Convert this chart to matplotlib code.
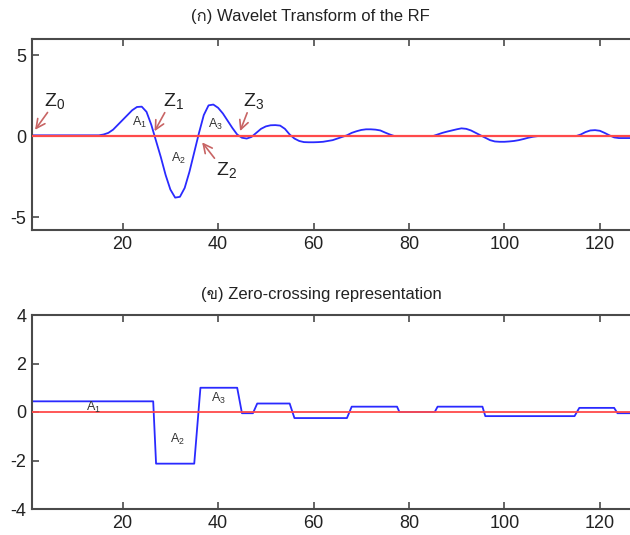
import numpy as np
import matplotlib
matplotlib.use('Agg')
import matplotlib.pyplot as plt
from matplotlib import font_manager
from matplotlib.ft2font import FT2Font

# wavelet transform of the RF, one sample per x = 1..127
x_wt = np.arange(1, 128)
y_wt = [0.05] * 15 + [
    0.1, 0.2, 0.4, 0.7, 1.0, 1.3, 1.6, 1.8, 1.82, 1.5,          # 16-25
    0.7, -0.3, -1.3, -2.4, -3.3, -3.8, -3.75, -3.2, -2.2, -1.0,  # 26-35
    0.2, 1.3, 1.9, 1.95, 1.75, 1.4, 0.95, 0.5, 0.1, -0.1,       # 36-45
    -0.15, -0.05, 0.2, 0.45, 0.6, 0.67, 0.68, 0.65, 0.45, 0.1,  # 46-55
    -0.15, -0.3, -0.37, -0.38, -0.38, -0.37, -0.35, -0.3, -0.25, -0.15,  # 56-65
    -0.05, 0.05, 0.2, 0.3, 0.38, 0.42, 0.42, 0.4, 0.35, 0.22,   # 66-75
    0.1, 0.0, 0.0, 0.0, 0.0, 0.0, 0.0, 0.0, 0.0, 0.0,           # 76-85
    0.1, 0.2, 0.28, 0.35, 0.42, 0.48, 0.45, 0.35, 0.2, 0.05,    # 86-95
    -0.1, -0.25, -0.33, -0.35, -0.35, -0.33, -0.3, -0.25, -0.18, -0.1,  # 96-105
    -0.04, 0.0, 0.0, 0.0, 0.0, 0.0, 0.0, 0.0, 0.0, 0.0,         # 106-115
    0.1, 0.25, 0.35, 0.37, 0.33, 0.2, 0.05, -0.08, -0.12, -0.12,  # 116-125
    -0.12, -0.12]                                               # 126-127

# zero-crossing representation (step levels)
x_zc = [1, 26.4, 27, 35, 36.3, 44, 45, 47.3, 48.2, 55, 56, 67, 68, 77.5, 78,
        85.4, 86, 95.4, 96, 114.7, 115.7, 123, 123.7, 128]
y_zc = [0.44, 0.44, -2.13, -2.13, 1.0, 1.0, -0.05, -0.05, 0.35, 0.35, -0.25, -0.25,
        0.22, 0.22, 0.0, 0.0, 0.22, 0.22, -0.17, -0.17, 0.17, 0.17, -0.05, -0.05]

# zero crossing markers: label position, arrow tail, arrow head
z_names = ['0', '1', '2', '3']
z_text = [(3.5, 2.2), (28.5, 2.2), (39.6, -2.1), (45.3, 2.2)]
z_tail = [(4.6, 1.6), (29.1, 1.6), (39.6, -1.5), (46.3, 1.6)]
z_head = [(1.3, 0.25), (26.4, 0.15), (36.3, -0.25), (44.4, 0.15)]

a_names = ['1', '2', '3']
a_top = [(23.5, 0.86), (31.7, -1.35), (39.4, 0.74)]
a_bot = [(13.8, 0.2), (31.4, -1.15), (40.0, 0.54)]

titles = ['(ก) Wavelet Transform of the RF', '(ข) Zero-crossing representation']


def find_thai_font():
    for f in font_manager.fontManager.ttflist:
        try:
            ft = FT2Font(f.fname)
            if ft.get_char_index(ord('ก')) and ft.get_char_index(ord('ข')):
                return f.name
        except Exception:
            pass
    return None


plt.rcParams['axes.unicode_minus'] = False
plt.rcParams['font.family'] = ['Liberation Sans', 'DejaVu Sans']
plt.rcParams['mathtext.fontset'] = 'custom'
plt.rcParams['mathtext.rm'] = 'Liberation Sans'

thai = find_thai_font()
title_family = ['Liberation Sans'] + ([thai] if thai else []) + ['DejaVu Sans']

spine_c = '#4a4a4a'
arrow_c = '#c86464'

fig = plt.figure(figsize=(6.3, 5.35), dpi=100)
ax1 = fig.add_axes([32 / 630, 305 / 535, 606 / 630, 191 / 535])
ax2 = fig.add_axes([32 / 630, 26 / 535, 606 / 630, 194 / 535])


def style(ax, ylim, yticks):
    ax.set_xlim(1, 128)
    ax.set_ylim(*ylim)
    ax.set_xticks([20, 40, 60, 80, 100, 120])
    ax.set_yticks(yticks)
    ax.tick_params(direction='in', length=5, width=1.2, color=spine_c,
                   labelsize=13, labelcolor='#222222',
                   top=True, right=True, pad=4)
    for s in ax.spines.values():
        s.set_color(spine_c)
        s.set_linewidth(1.5)


ax1.plot(x_wt, y_wt, color='#2a2aff', lw=1.3, zorder=2)
ax1.axhline(0, color='#ff4a4a', lw=1.6, zorder=3)
style(ax1, (-5.8, 6), [-5, 0, 5])
ax1.set_xticklabels(['20', '40', '60', '80', '100', '120'])

for n, t, tail, head in zip(z_names, z_text, z_tail, z_head):
    ax1.annotate('', xy=head, xytext=tail,
                 arrowprops=dict(arrowstyle='->', color=arrow_c, lw=1.2,
                                 mutation_scale=16), zorder=5)
    ax1.text(t[0], t[1], r'$\mathregular{Z_%s}$' % n, fontsize=14,
             color='#222222', ha='left', va='center', zorder=6)

for n, p in zip(a_names, a_top):
    ax1.text(p[0], p[1], r'$\mathregular{A_%s}$' % n, fontsize=9,
             color='#333333', ha='center', va='center')

ax2.plot(x_zc, y_zc, color='#2a2aff', lw=1.3, zorder=2)
ax2.axhline(0, color='#ff4a4a', lw=1.3, zorder=3)
style(ax2, (-4, 4), [-4, -2, 0, 2, 4])

for n, p in zip(a_names, a_bot):
    ax2.text(p[0], p[1], r'$\mathregular{A_%s}$' % n, fontsize=9,
             color='#333333', ha='center', va='center', zorder=4)

fig.text(310 / 630, 1 - 17 / 535, titles[0], fontsize=12, color='#222222',
         ha='center', va='center', family=title_family)
fig.text(321 / 630, 1 - 295 / 535, titles[1], fontsize=12, color='#222222',
         ha='center', va='center', family=title_family)

fig.savefig('out.png', dpi=100, facecolor='white')
